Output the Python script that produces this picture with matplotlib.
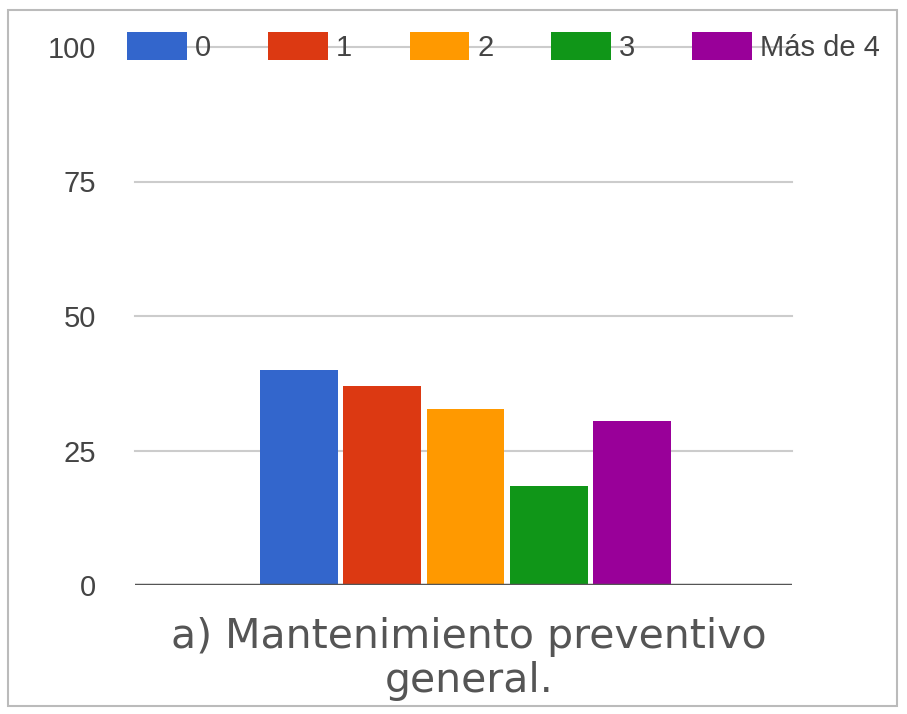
import matplotlib
matplotlib.use("Agg")
import matplotlib.pyplot as plt
from matplotlib.patches import Rectangle, Patch
import numpy as np

category = "a) Mantenimiento preventivo\ngeneral."
series = ["0", "1", "2", "3", "Más de 4"]
values = [40, 37, 32.7, 18.4, 30.5]
colors = ["#3366cc", "#dc3912", "#ff9900", "#109618", "#990099"]
yticks = [0, 25, 50, 75, 100]

plt.rcParams['font.family'] = ['Liberation Sans', 'DejaVu Sans']

fig = plt.figure(figsize=(9.07, 7.14), dpi=100)
W, H = 907, 714
ax = fig.add_axes([135 / W, (H - 585) / H, (792 - 135) / W, (585 - 47) / H])

n = len(series)
step = 0.1268
width = 0.118
for i, (v, c) in enumerate(zip(values, colors)):
    ax.bar((i - (n - 1) / 2) * step + 0.003, v, width=width, color=c, zorder=3, label=series[i])

ax.set_xlim(-0.5, 0.5)
ax.set_ylim(0, 100)
ax.set_yticks(yticks)
ax.set_yticklabels([str(t) for t in yticks], fontsize=21, color="#444444")
ax.tick_params(axis='y', length=0, pad=28)
ax.set_xticks([])
for t in yticks[1:]:
    ax.axhline(t, color="#cccccc", lw=1.5, zorder=1, clip_on=False)
ax.axhline(0, color="#555555", lw=2.5, zorder=4)
for s in ax.spines.values():
    s.set_visible(False)

fig.text(469 / W, 1 - 659 / H, category, ha="center", va="center", fontsize=29.5,
         color="#555555", family=['DejaVu Sans'], linespacing=1.12)

handles = [Patch(facecolor=c, edgecolor="none") for c in colors]
leg = fig.legend(handles, series, loc="center left", bbox_to_anchor=(127 / W, 1 - 47 / H),
                 ncol=5, frameon=False, fontsize=21, handlelength=2.05, handleheight=1.1,
                 handletextpad=0.27, columnspacing=1.97, borderpad=0, borderaxespad=0)
for t in leg.get_texts():
    t.set_color("#444444")

fig.patches.append(Rectangle((8 / W, 1 - 706 / H), (897 - 8) / W, (706 - 10) / H,
                             transform=fig.transFigure, fill=False, edgecolor="#bbbbbb", lw=1.5))

fig.savefig("out.png", dpi=100)
